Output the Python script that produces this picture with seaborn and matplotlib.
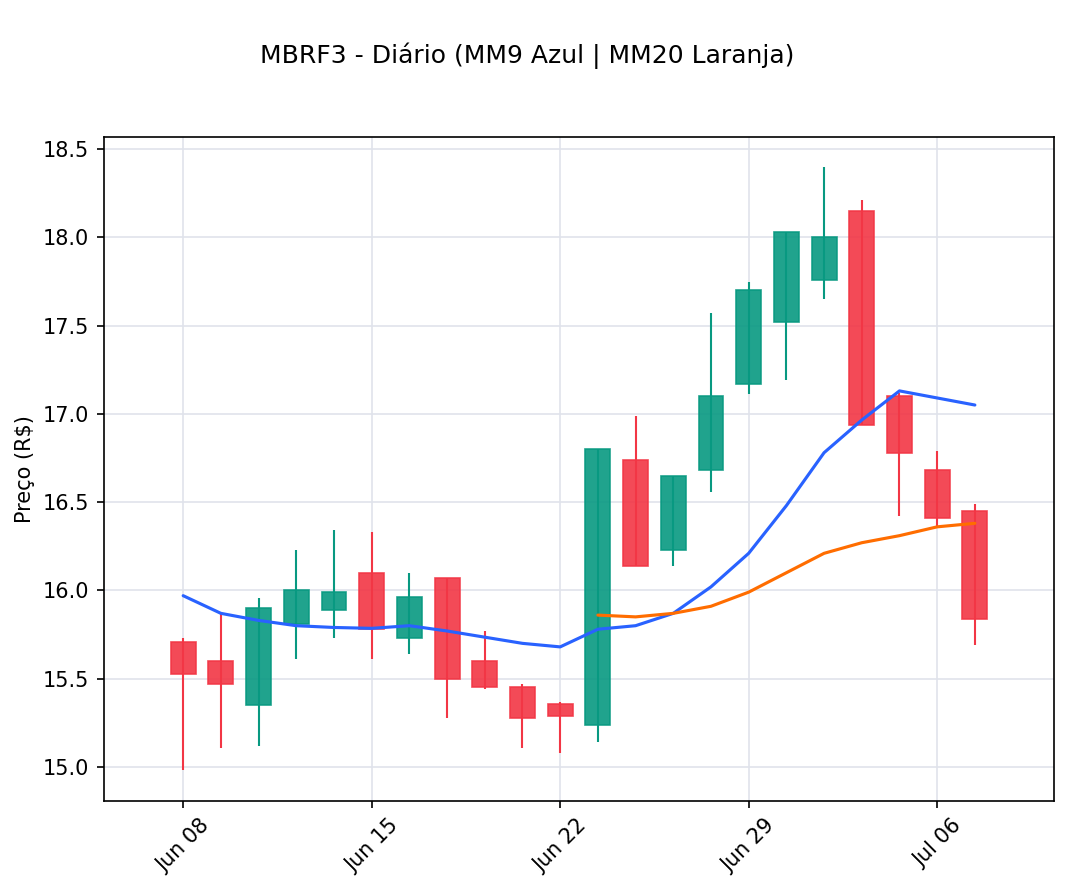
import numpy as np
import pandas as pd
import matplotlib
matplotlib.use("Agg")
import matplotlib.pyplot as plt
import seaborn as sns

# ---- data ----
dates = ["Jun 08", "Jun 09", "Jun 10", "Jun 11", "Jun 12",
         "Jun 15", "Jun 16", "Jun 17", "Jun 18", "Jun 19",
         "Jun 22", "Jun 23", "Jun 24", "Jun 25", "Jun 26",
         "Jun 29", "Jun 30", "Jul 01", "Jul 02", "Jul 03",
         "Jul 06", "Jul 07"]
opens = [15.71, 15.60, 15.35, 15.81, 15.89, 16.10, 15.73, 16.07, 15.60, 15.45, 15.355,
         15.24, 16.74, 16.23, 16.68, 17.17, 17.52, 17.76, 18.15, 17.10, 16.68, 16.45]
highs = [15.73, 15.87, 15.955, 16.23, 16.34, 16.33, 16.10, 16.07, 15.77, 15.47, 15.37,
         16.80, 16.99, 16.65, 17.57, 17.745, 18.03, 18.40, 18.21, 17.12, 16.79, 16.49]
lows = [14.98, 15.11, 15.12, 15.61, 15.73, 15.61, 15.64, 15.28, 15.44, 15.11, 15.08,
        15.14, 16.14, 16.14, 16.56, 17.11, 17.19, 17.65, 16.935, 16.42, 16.365, 15.69]
closes = [15.527, 15.47, 15.90, 16.00, 15.99, 15.78, 15.96, 15.50, 15.45, 15.28, 15.29,
          16.80, 16.14, 16.65, 17.10, 17.70, 18.03, 18.00, 16.935, 16.78, 16.41, 15.84]
mm9 = [15.97, 15.87, 15.83, 15.80, 15.79, 15.785, 15.80, 15.77, 15.735, 15.70, 15.68,
       15.78, 15.80, 15.87, 16.02, 16.21, 16.48, 16.78, 16.965, 17.13, 17.09, 17.05]
mm20 = [np.nan] * 11 + [15.86, 15.85, 15.87, 15.91, 15.99, 16.10, 16.21, 16.27,
                        16.31, 16.36, 16.38]
tick_labels = ["Jun 08", "Jun 15", "Jun 22", "Jun 29", "Jul 06"]

UP = "#089981"
DOWN = "#F23645"

sns.set_style("ticks")
plt.rcParams["font.family"] = ["DejaVu Sans"]
plt.rcParams["text.color"] = "black"
plt.rcParams["axes.labelcolor"] = "black"

df = pd.DataFrame({"idx": np.arange(len(dates)), "open": opens, "high": highs,
                   "low": lows, "close": closes, "mm9": mm9, "mm20": mm20})

fig = plt.figure(figsize=(1069 / 150, 891 / 150), dpi=150)
ax = fig.add_axes([0.0973, 0.101, 0.8887, 0.7452])

ax.grid(True, color="#e0e3eb", linewidth=0.8)
ax.set_axisbelow(True)

for _, r in df.iterrows():
    up = r["close"] >= r["open"]
    col = UP if up else DOWN
    ax.vlines(r["idx"], r["low"], r["high"], color=col, linewidth=1.0, zorder=2)
    bottom = min(r["open"], r["close"])
    height = abs(r["close"] - r["open"])
    ax.bar(r["idx"], height, bottom=bottom, width=0.66, color=col, alpha=0.9,
           edgecolor=col, linewidth=0.8, zorder=3)

sns.lineplot(data=df, x="idx", y="mm9", ax=ax, color="#2962FF", linewidth=1.5, zorder=4)
sns.lineplot(data=df.dropna(subset=["mm20"]), x="idx", y="mm20", ax=ax,
             color="#FF6D00", linewidth=1.5, zorder=4)

ax.set_xlim(-2.1, 23.1)
ax.set_ylim(14.807, 18.568)
ax.set_yticks([15.0, 15.5, 16.0, 16.5, 17.0, 17.5, 18.0, 18.5])
ax.set_xticks([dates.index(t) for t in tick_labels])
ax.set_xticklabels(tick_labels, rotation=45, ha="center")
ax.tick_params(labelsize=10, colors="black")
ax.set_xlabel("")
ax.set_ylabel("Preço (R$)", fontsize=10, color="black")
for s in ax.spines.values():
    s.set_visible(True)
    s.set_color("black")
    s.set_linewidth(0.8)

fig.suptitle("MBRF3 - Diário (MM9 Azul | MM20 Laranja)", fontsize=12, y=0.952,
             x=0.493, color="black")

fig.savefig("out.png", dpi=150)
